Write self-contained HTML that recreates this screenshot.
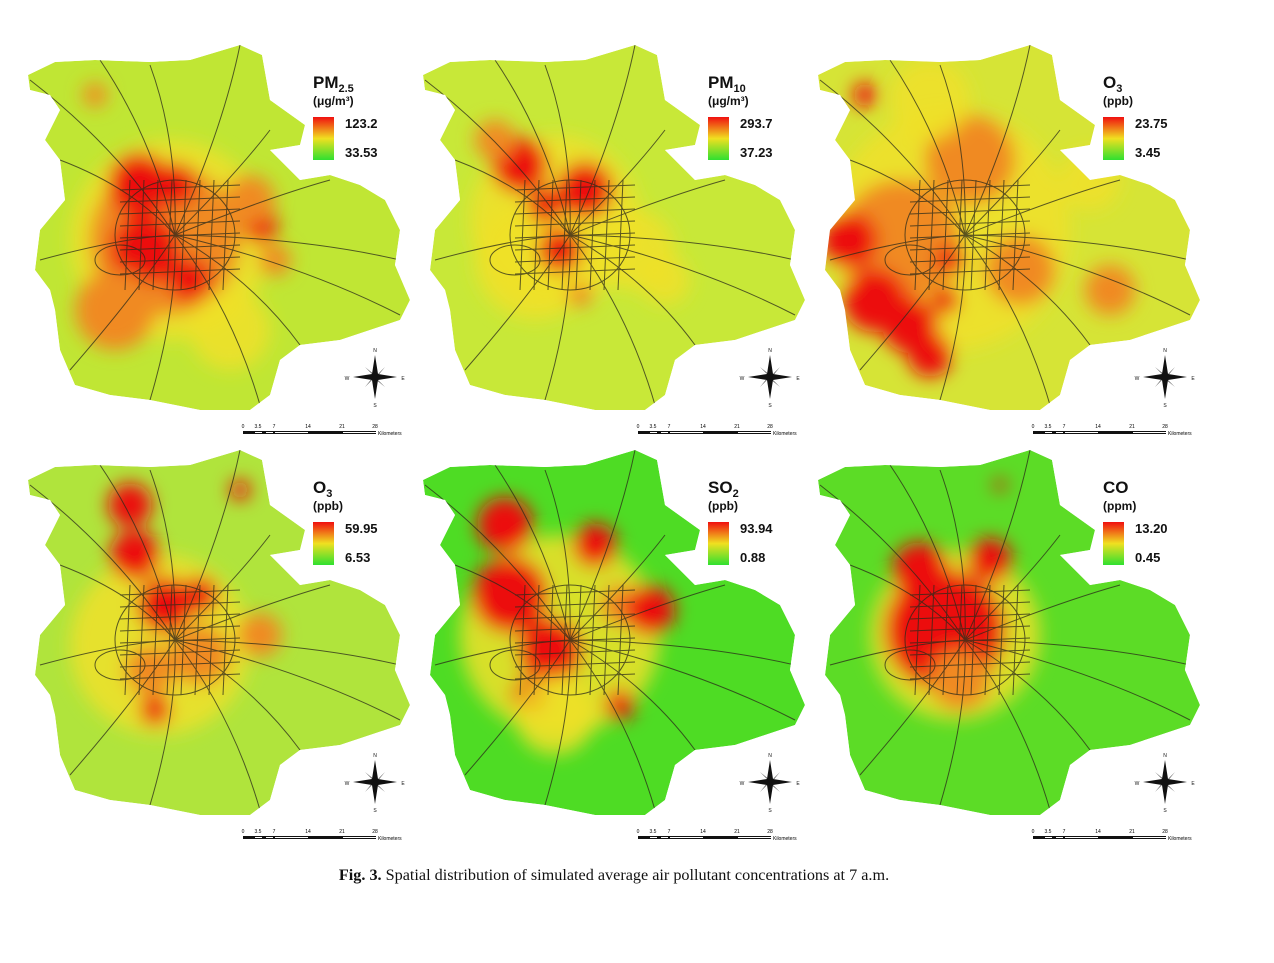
<!DOCTYPE html>
<html><head><meta charset="utf-8"><style>
body{margin:0;background:#fff;width:1274px;height:963px;overflow:hidden}
svg{position:absolute;left:0;top:0}
#cap{position:absolute;top:866px;left:0;width:1228px;text-align:center;font-family:"Liberation Serif",serif;font-size:16.2px;color:#111}
</style></head><body>
<svg id="s" width="1274" height="963"></svg>
<div id="cap"><b>Fig. 3.</b> Spatial distribution of simulated average air pollutant concentrations at 7 a.m.</div>
<script>
// panel titles, units, legend max/min
const titles=[["PM","2.5"],["PM","10"],["O","3"],["O","3"],["SO","2"],["CO",""]];
const units=["(\u03bcg/m\u00b3)","(\u03bcg/m\u00b3)","(ppb)","(ppb)","(ppb)","(ppm)"];
const maxVals=["123.2","293.7","23.75","59.95","93.94","13.20"];
const minVals=["33.53","37.23","3.45","6.53","0.88","0.45"];
const baseColors=["#c0e634","#c8e838","#d6e436","#b0e43c","#4edc24","#5cdc26"];
// hotspots per panel: [x,y,radius,level] level: 0 yellow,1 orange,2 red
const hot=[
 [[170,240,100,0],[165,240,75,1],[140,185,32,2],[175,185,22,2],[145,250,35,2],[190,280,22,2],[260,225,18,2],[275,260,16,1],[115,310,40,1],[95,95,12,1],[230,330,40,0],[250,200,25,1]],
 [[160,220,85,0],[140,260,60,0],[125,165,28,2],[190,190,28,2],[150,205,18,2],[165,250,22,2],[185,295,12,1],[240,250,40,0],[100,140,20,1],[270,280,25,0]],
 [[160,230,120,0],[110,240,60,1],[180,160,45,1],[60,240,28,2],[85,300,32,2],[120,325,28,2],[140,355,22,2],[160,260,15,2],[155,300,14,2],[230,270,35,1],[320,290,25,1],[75,95,12,2],[300,180,30,0],[140,100,40,0]],
 [[160,240,90,0],[130,100,22,2],[135,150,25,2],[165,200,28,2],[200,190,18,2],[150,265,25,1],[155,305,15,2],[240,85,10,2],[260,230,22,1],[200,250,30,1]],
 [[165,230,100,0],[115,190,38,2],[110,120,28,2],[155,245,32,2],[200,140,22,2],[225,200,20,1],[255,205,25,2],[135,290,18,2],[225,300,15,2],[160,310,40,0]],
 [[165,230,85,0],[155,225,60,2],[130,165,28,2],[200,155,22,2],[170,275,30,1],[210,80,6,2]]
];
const outline=[[28,75],[55,62],[95,60],[150,62],[190,60],[240,45],[262,55],[270,100],[305,125],[300,145],[270,150],[300,180],[330,175],[360,185],[385,200],[400,230],[395,265],[410,300],[400,320],[370,330],[340,340],[300,345],[280,360],[270,395],[250,410],[200,410],[150,400],[110,395],[75,385],[60,350],[55,310],[50,290],[35,270],[40,230],[65,200],[60,160],[45,140],[60,110],[50,95],[30,90]];
const NS="http://www.w3.org/2000/svg";
const s=document.getElementById('s');
function el(t,a,p){const e=document.createElementNS(NS,t);for(const k in a)e.setAttribute(k,a[k]);(p||s).appendChild(e);return e;}
const defs=el('defs',{});
const f=el('filter',{id:'bl',x:'-50%',y:'-50%',width:'200%',height:'200%'},defs);
el('feGaussianBlur',{stdDeviation:'9'},f);
const lg=el('linearGradient',{id:'lg',x1:0,y1:0,x2:0,y2:1},defs);
el('stop',{offset:'0',"stop-color":'#f01010'},lg);el('stop',{offset:'0.5',"stop-color":'#f0e020'},lg);el('stop',{offset:'1',"stop-color":'#30e030'},lg);
const lvl=["#f0e028","#f08a20","#ec0c0c"];
for(let i=0;i<6;i++){
 const ox=(i%3)*395, oy=Math.floor(i/3)*405;
 const g=el('g',{transform:`translate(${ox},${oy})`});
 
 
 const cp=el('clipPath',{id:'c'+i},defs);
 el('polygon',{points:outline.map(p=>p.join(',')).join(' ')},cp);
 const m=el('g',{"clip-path":`url(#c${i})`},g);
 el('polygon',{points:outline.map(p=>p.join(',')).join(' '),fill:baseColors[i]},m);
 const hb=el('g',{filter:'url(#bl)'},m);
 hot[i].forEach(h=>{const c=el('circle',{cx:h[0],cy:h[1],r:h[2],fill:lvl[h[3]],opacity:h[3]==0?0.85:1},hb);});
 // roads
 const rd=el('g',{stroke:'#2a2a1a',"stroke-width":'1',fill:'none',opacity:'0.75'},m);
 const cx=175,cy=235;
 [[30,80],[100,60],[240,45],[270,130],[330,180],[400,260],[400,315],[300,345],[260,405],[150,400],[70,370],[40,260],[60,160],[150,65]].forEach(p=>el('path',{d:`M${cx},${cy} Q${(cx+p[0])/2+15},${(cy+p[1])/2-10} ${p[0]},${p[1]}`},rd));
 for(let k=0;k<8;k++){el('line',{x1:120,y1:190+k*12,x2:240,y2:185+k*12},rd);el('line',{x1:130+k*14,y1:180,x2:125+k*14,y2:290},rd);}
 el('ellipse',{cx:175,cy:235,rx:60,ry:55},rd);el('ellipse',{cx:120,cy:260,rx:25,ry:15},rd);
 // legend
 const t=el('text',{x:313,y:88,"font-family":'Liberation Sans,sans-serif',"font-size":'17',"font-weight":'bold',fill:'#111'},g);
 t.textContent=titles[i][0];
 if(titles[i][1]){const ts=el('tspan',{"font-size":'11',dy:'4'},t);ts.textContent=titles[i][1];}
 
 const u=el('text',{x:313,y:105,"font-family":'Liberation Sans,sans-serif',"font-size":'12',"font-weight":'bold',fill:'#111'},g);u.textContent=units[i];
 
 const lb=el('rect',{x:313,y:117,width:21,height:43,fill:'url(#lg)'},g);
 
 const a=el('text',{x:345,y:128,"font-family":'Liberation Sans,sans-serif',"font-size":'13',"font-weight":'bold',fill:'#111'},g);a.textContent=maxVals[i];
 
 const b=el('text',{x:345,y:157,"font-family":'Liberation Sans,sans-serif',"font-size":'13',"font-weight":'bold',fill:'#111'},g);b.textContent=minVals[i];
 
 // compass
 const cg=el('g',{transform:'translate(375,377)',fill:'#111'},g);
 
 el('polygon',{points:'0,-22 3,-3 22,0 3,3 0,22 -3,3 -22,0 -3,-3'},cg);
 el('polygon',{points:'-10,-10 1,-1 10,-10 1,1 10,10 -1,1 -10,10 -1,-1',opacity:0.7},cg);
 [['N',0,-25],['S',0,30],['W',-28,3],['E',28,3]].forEach(l=>{const x=el('text',{x:l[1],y:l[2],"font-size":'5',"text-anchor":'middle',"font-family":'Liberation Sans,sans-serif'},cg);x.textContent=l[0];});
 // scale bar
 const sg=el('g',{},g);
 
 el('rect',{x:243,y:431,width:133,height:3,fill:'#111'},sg);
 [255,266].forEach(x=>el('rect',{x:x,y:432,width:7,height:1,fill:'#fff'},sg));
 el('rect',{x:275,y:432,width:33,height:1,fill:'#fff'},sg);el('rect',{x:343,y:432,width:33,height:1,fill:'#fff'},sg);
 [['0',243],['3.5',258],['7',274],['14',308],['21',342],['28',375]].forEach(l=>{const x=el('text',{x:l[1],y:428,"font-size":'5',"text-anchor":'middle',"font-family":'Liberation Sans,sans-serif'},sg);x.textContent=l[0];});
 const km=el('text',{x:378,y:435,"font-size":'5',"font-family":'Liberation Sans,sans-serif'},sg);km.textContent='Kilometers';
}
</script>
</body></html>
